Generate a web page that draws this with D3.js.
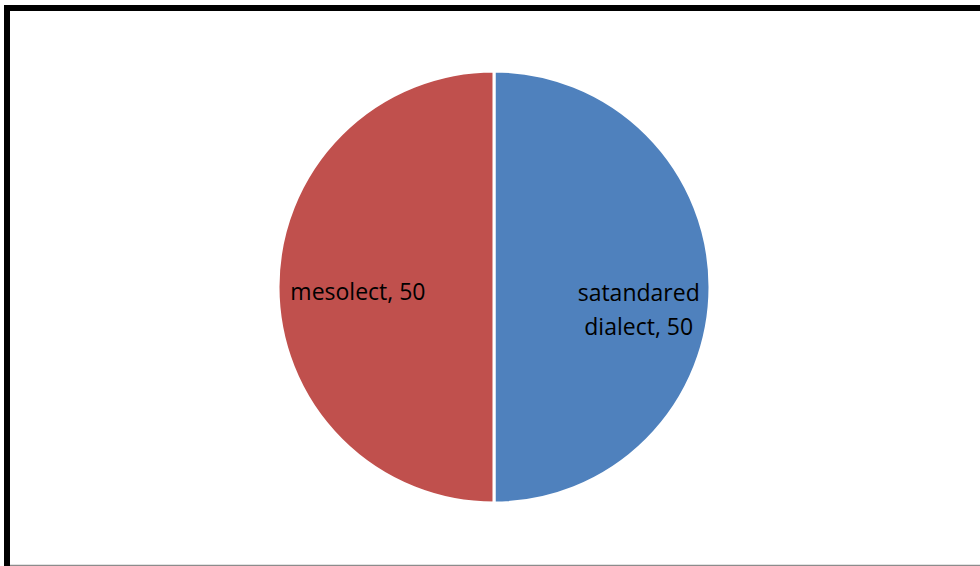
<!DOCTYPE html>
<html><head><meta charset="utf-8">
<script src="https://cdn.jsdelivr.net/npm/d3@7"></script>
<style>html,body{margin:0;padding:0;background:#fff;overflow:hidden}</style>
</head><body>
<svg id="c" width="980" height="566"></svg>
<script>
const categories = ["satandared dialect", "mesolect"];
const values = [50, 50];
const colors = ["#4F81BD", "#C0504D"];

const svg = d3.select("#c");
// frame (right and bottom edges lie outside the picture)
svg.append("rect").attr("x",7).attr("y",8).attr("width",1000).attr("height",600)
  .attr("fill","#fff").attr("stroke","#000").attr("stroke-width",6);
svg.append("line").attr("x1",10).attr("x2",980).attr("y1",565.5).attr("y2",565.5)
  .attr("stroke","#8c8c8c").attr("stroke-width",1.5);

const cx = 494, cy = 287, r = 216;
const pie = d3.pie().sort(null).value(d => d.v);
const data = pie(categories.map((c,i)=>({c, v: values[i], col: colors[i]})));
const arc = d3.arc().innerRadius(0).outerRadius(r);
const g = svg.append("g").attr("transform",`translate(${cx},${cy})`);
g.selectAll("path").data(data).join("path")
  .attr("d", arc).attr("fill", d => d.data.col)
  .attr("stroke","#fff").attr("stroke-width",3);

const font = "'Open Sans', sans-serif";
data.forEach((d,i) => {
  const lr = i === 0 ? r*0.67 : r*0.63;
  const [lx, ly] = d3.arc().innerRadius(lr).outerRadius(lr).centroid(d);
  const lines = i === 0 ? ["satandared", "dialect, " + d.data.v] : [d.data.c + ", " + d.data.v];
  const t = g.append("text").attr("text-anchor","middle")
    .attr("font-family", font).attr("font-size", 23).attr("fill","#000");
  const lh = 34;
  const y0 = i === 0 ? ly + 14 : ly + 13;
  lines.forEach((l,j) => t.append("tspan").attr("x", lx).attr("y", y0 + j*lh).text(l));
});
</script>
</body></html>
